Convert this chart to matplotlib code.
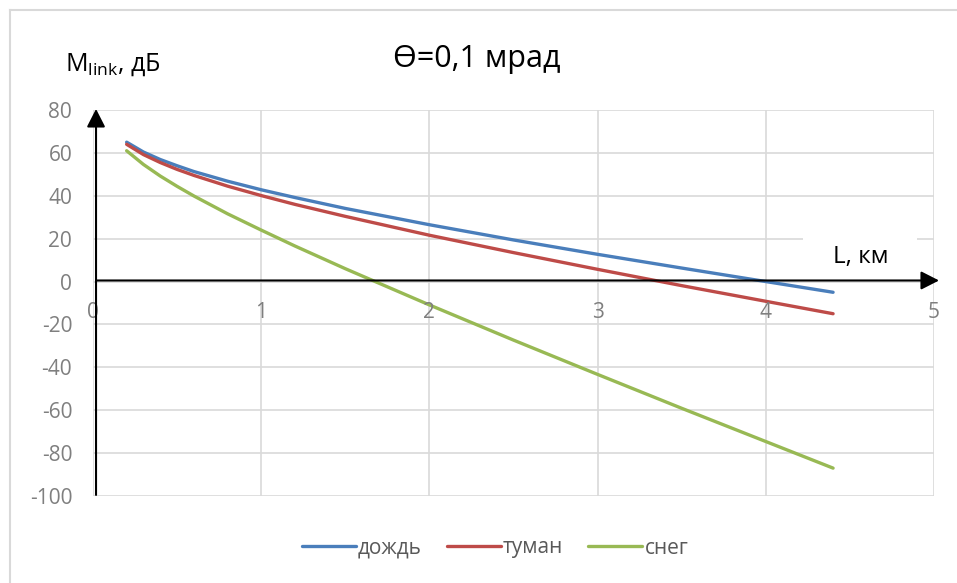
import matplotlib
matplotlib.use("Agg")
import matplotlib.pyplot as plt
from matplotlib.lines import Line2D
from matplotlib.patches import Rectangle

plt.rcParams['font.family'] = ['Open Sans', 'DejaVu Sans']
plt.rcParams['mathtext.fontset'] = 'custom'
plt.rcParams['mathtext.rm'] = 'Open Sans'
plt.rcParams['mathtext.it'] = 'Open Sans'

# Data
L = [0.2, 0.3, 0.4, 0.5, 0.6, 0.8, 1.0, 1.2, 1.5, 2.0, 2.5, 3.0, 3.5, 4.0, 4.4]
rain = [65.0, 60.4, 56.9, 54.0, 51.3, 46.8, 42.8, 39.2, 34.1, 26.5, 19.4, 12.7, 6.3, 0.0, -5.0]
fog = [64.0, 59.2, 55.5, 52.3, 49.5, 44.5, 40.1, 36.0, 30.4, 21.6, 13.5, 5.7, -1.9, -9.2, -15.0]
snow = [61.0, 54.6, 49.2, 44.4, 39.9, 31.6, 24.0, 16.6, 6.0, -10.9, -27.3, -43.3, -59.1, -74.6, -87.0]
series_names = ['дождь', 'туман', 'снег']
colors = ['#4a7ebb', '#be4b48', '#98b954']
x_ticks = [0, 1, 2, 3, 4, 5]
y_ticks = [80, 60, 40, 20, 0, -20, -40, -60, -80, -100]

fig = plt.figure(figsize=(9.57, 5.83), dpi=100)
ax = fig.add_axes([93/957, 87/583, 841/957, 386/583])
ax.set_xlim(0, 5)
ax.set_ylim(-100, 80)
for s in ax.spines.values():
    s.set_visible(False)
ax.set_xticks(x_ticks)
ax.set_yticks(y_ticks)
ax.set_xticklabels([])
ax.set_yticklabels([str(v) for v in y_ticks])
ax.tick_params(axis='both', length=0, labelsize=15, labelcolor='#7f7f7f')
ax.tick_params(axis='y', pad=15)
ax.grid(True, color='#d9d9d9', lw=1.2)
ax.set_axisbelow(True)

lines = []
for ys, c, n in zip([rain, fog, snow], colors, series_names):
    ln, = ax.plot(L, ys, color=c, lw=2.4, label=n, solid_capstyle='round', zorder=3)
    lines.append(ln)

# x tick labels placed just below the zero line
for t in x_ticks:
    ax.annotate(str(t), xy=(t, 0), xytext=(0, -31), textcoords='offset pixels',
                ha='center', va='center', fontsize=15, color='#7f7f7f',
                annotation_clip=False)

# white patch behind axis label
ax.add_patch(Rectangle((4.22, 14), 0.68, 12, facecolor='white', edgecolor='none', zorder=2))
ax.text(4.567, 11.5, 'L, км', fontsize=17.5, color='black', ha='center', va='center', zorder=4)

# axes arrows
ax.annotate('', xy=(0.018, 80.5), xytext=(0.018, -99.5),
            arrowprops=dict(arrowstyle='-|>,head_length=0.55,head_width=0.28', color='black',
                            lw=1.5, mutation_scale=20, shrinkA=0, shrinkB=0),
            annotation_clip=False, zorder=5)
ax.annotate('', xy=(5.03, 0.5), xytext=(0.02, 0.5),
            arrowprops=dict(arrowstyle='-|>,head_length=0.55,head_width=0.28', color='black',
                            lw=1.5, mutation_scale=20, shrinkA=0, shrinkB=0),
            annotation_clip=False, zorder=5)

# titles
fig.text(477/957, 1 - 59/583, 'Ө=0,1 мрад', fontsize=22, ha='center', va='center', color='black')
fig.text(65/957, 1 - 65/583, r'$\mathrm{M_{link}}$, дБ', fontsize=18, ha='left', va='center', color='black')

leg = fig.legend(handles=lines, labels=series_names, loc='center', bbox_to_anchor=(495/957, 1 - 548/583),
                 ncol=3, frameon=False, fontsize=15, handlelength=2.6, handletextpad=0.1,
                 columnspacing=1.2, labelcolor='#595959')

# outer border (left and top)
fig.add_artist(Line2D([9.5/957, 1], [1 - 9.5/583, 1 - 9.5/583], color='#d9d9d9', lw=1.5))
fig.add_artist(Line2D([9.5/957, 9.5/957], [0, 1 - 9.5/583], color='#d9d9d9', lw=1.5))

fig.savefig('out.png', dpi=100, facecolor='white')
